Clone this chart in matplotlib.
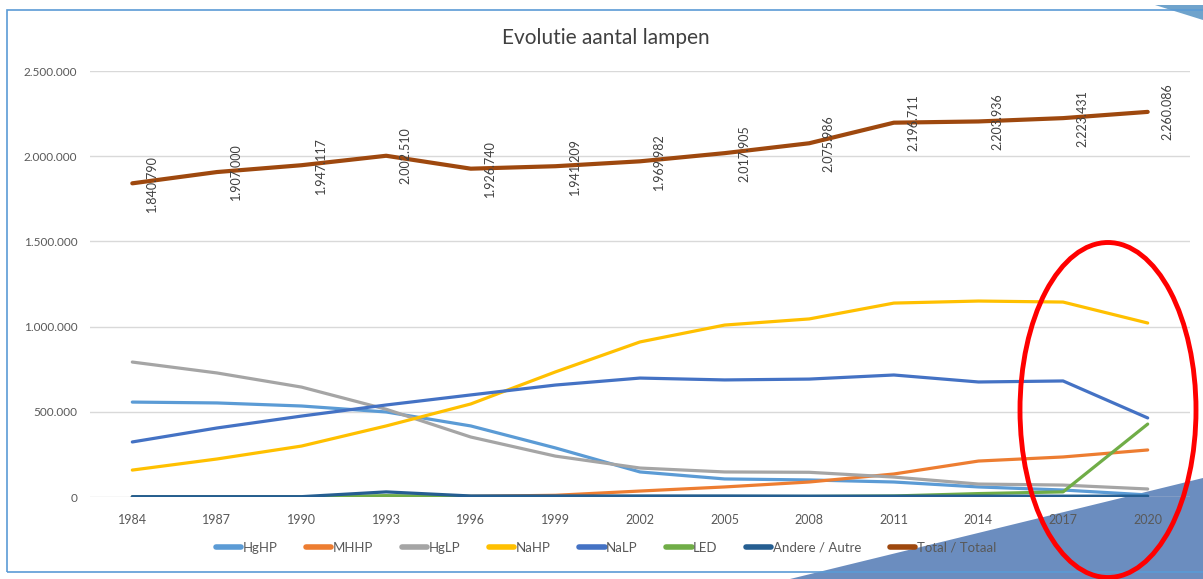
import matplotlib.pyplot as plt
from matplotlib.patches import Ellipse, Polygon, Rectangle
from matplotlib.ticker import FuncFormatter, MultipleLocator

# =========================
# Data
# =========================
years = ["1984", "1987", "1990", "1993", "1996", "1999", "2002",
         "2005", "2008", "2011", "2014", "2017", "2020"]

hghp = [557000, 552000, 534000, 499000, 417000, 288000, 147000,
        106000, 100000, 88000, 59000, 41000, 12000]
mhhp = [0, 0, 0, 2000, 4000, 10000, 35000,
        59000, 88000, 135000, 211000, 235000, 276000]
hglp = [792000, 728000, 645000, 515000, 352000, 240000, 170000,
        147000, 145000, 117000, 76000, 70000, 47000]
nahp = [158000, 223000, 299000, 417000, 546000, 734000, 910000,
        1009000, 1045000, 1138000, 1150000, 1144000, 1021000]
nalp = [323000, 405000, 475000, 540000, 599000, 657000, 698000,
        687000, 692000, 716000, 675000, 681000, 464000]
led = [0, 0, 0, 8000, 3000, 3000, 3000,
       3000, 3000, 6000, 20000, 30000, 428000]
andere = [2000, 2000, 2000, 30000, 6000, 6000, 6000,
          6000, 5000, 5000, 5000, 5000, 5000]
total = [1840790, 1907000, 1947117, 2002510, 1926740, 1941209, 1969982,
         2017905, 2075986, 2196711, 2203936, 2223431, 2260086]

series = [
    ("HgHP", hghp, "#5B9BD5"),
    ("MHHP", mhhp, "#ED7D31"),
    ("HgLP", hglp, "#A5A5A5"),
    ("NaHP", nahp, "#FFC000"),
    ("NaLP", nalp, "#4472C4"),
    ("LED", led, "#70AD47"),
    ("Andere / Autre", andere, "#255E91"),
]


def dots(v, pos=None):
    return f"{int(round(v)):,}".replace(",", ".")


plt.rcParams["font.family"] = ["Lato", "DejaVu Sans"]

fig = plt.figure(figsize=(12.03, 5.79), dpi=100)

# decorations behind the chart
fig.patches.append(Polygon([(790 / 1203, 0), (1, 0), (1, 1 - 478 / 579)],
                           closed=True, transform=fig.transFigure,
                           facecolor="#6B8DBF", edgecolor="none", zorder=-2))
fig.patches.append(Polygon([(1155 / 1203, 1 - 5 / 579), (1, 1 - 5 / 579), (1, 1 - 20 / 579)],
                           closed=True, transform=fig.transFigure,
                           facecolor="#6FA3CC", edgecolor="none", zorder=-2))
fig.patches.append(Rectangle((7 / 1203, 1 - 572 / 579), 1.1, (572 - 10) / 579,
                             transform=fig.transFigure, fill=False,
                             edgecolor="#5B9BD5", linewidth=1.2, zorder=-1))

ax = fig.add_axes([90 / 1203, 1 - 497 / 579, 1100 / 1203, 426 / 579])
ax.patch.set_alpha(0)

x = list(range(len(years)))
for name, vals, col in series:
    ax.plot(x, vals, color=col, linewidth=2.3, label=name,
            solid_capstyle="round", zorder=3)
ax.plot(x, total, color="#9E480E", linewidth=3, label="Total / Totaal",
        solid_capstyle="round", zorder=3)

for xi, v in zip(x, total):
    ax.annotate(dots(v), (xi, v), xytext=(14, 0), textcoords="offset points",
                rotation=90, ha="center", va="center", fontsize=9,
                color="#404040", zorder=4)

ax.set_xlim(-0.5, len(years) - 0.5)
ax.set_ylim(0, 2500000)
ax.set_xticks(x)
ax.set_xticklabels(years)
ax.yaxis.set_major_locator(MultipleLocator(500000))
ax.yaxis.set_major_formatter(FuncFormatter(dots))
ax.tick_params(axis="both", length=0, labelsize=9, labelcolor="#595959")
ax.tick_params(axis="y", labelsize=8.5, pad=9)
ax.tick_params(axis="x", pad=12)
ax.grid(axis="y", color="#D9D9D9", linewidth=1)
ax.set_axisbelow(True)
for s in ax.spines.values():
    s.set_visible(False)

fig.text(606 / 1203, 1 - 38 / 579, "Evolutie aantal lampen", ha="center",
         va="center", fontsize=15, color="#404040")

fig.legend(loc="center", bbox_to_anchor=(606 / 1203, 1 - 548 / 579), ncol=8,
           frameon=False, fontsize=9.5, handlelength=1.9, handletextpad=0.1,
           columnspacing=2.2, labelcolor="#595959")
for line in fig.legends[0].get_lines():
    line.set_linewidth(4)

# red highlight ellipse on top
fig.patches.append(Ellipse((1108 / 1203, 1 - 410 / 579), 176 / 1203, 335 / 579,
                           transform=fig.transFigure, fill=False,
                           edgecolor="#FF0000", linewidth=3.5, zorder=10))

fig.savefig("out.png", dpi=100)
